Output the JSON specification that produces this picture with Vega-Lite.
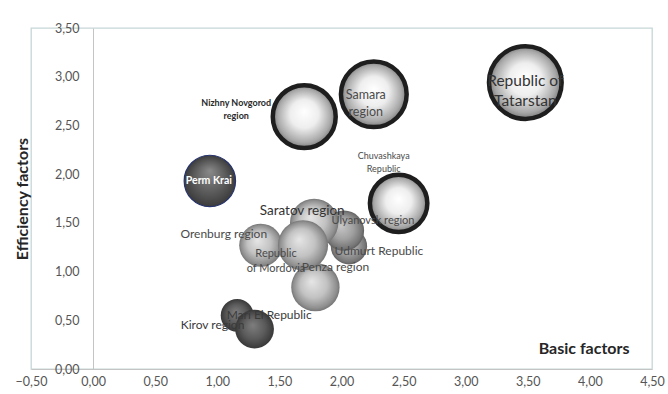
{
  "$schema": "https://vega.github.io/schema/vega-lite/v6.json",
  "width": 621,
  "height": 341,
  "autosize": {"type": "none"},
  "padding": {"left": 31, "top": 28, "right": 16, "bottom": 25},
  "background": "white",
  "config": {
    "view": {"stroke": "#c6d8d6", "strokeWidth": 1.3},
    "font": "Lato",
    "text": {"lineBreak": "\n", "font": "Lato"}
  },
  "data": {
    "values": [
      {"region": "Udmurt Republic", "label": "Udmurt Republic", "basic": 2.06, "efficiency": 1.26, "weight": 22},
      {"region": "Ulyanovsk region", "label": "Ulyanovsk region", "basic": 2.02, "efficiency": 1.42, "weight": 27},
      {"region": "Penza region", "label": "Penza region", "basic": 1.79, "efficiency": 0.84, "weight": 39},
      {"region": "Orenburg region", "label": "Orenburg region", "basic": 1.35, "efficiency": 1.27, "weight": 31},
      {"region": "Saratov region", "label": "Saratov region", "basic": 1.78, "efficiency": 1.5, "weight": 39},
      {"region": "Republic of Mordovia", "label": "Republic\nof Mordovia", "basic": 1.69, "efficiency": 1.27, "weight": 42},
      {"region": "Mari El Republic", "label": "Mari El Republic", "basic": 1.16, "efficiency": 0.55, "weight": 18},
      {"region": "Kirov region", "label": "Kirov region", "basic": 1.3, "efficiency": 0.41, "weight": 25},
      {"region": "Perm Krai", "label": "Perm Krai", "basic": 0.94, "efficiency": 1.93, "weight": 44},
      {"region": "Nizhny Novgorod region", "label": "Nizhny Novgorod\nregion", "basic": 1.7, "efficiency": 2.59, "weight": 66},
      {"region": "Samara region", "label": "Samara\nregion", "basic": 2.26, "efficiency": 2.82, "weight": 72},
      {"region": "Chuvashkaya Republic", "label": "Chuvashkaya\nRepublic", "basic": 2.46, "efficiency": 1.7, "weight": 55},
      {"region": "Republic of Tatarstan", "label": "Republic of\nTatarstan", "basic": 3.48, "efficiency": 2.94, "weight": 88}
    ]
  },
  "encoding": {
    "x": {
      "field": "basic", "type": "quantitative",
      "scale": {"domain": [-0.5, 4.5], "nice": false, "zero": false},
      "axis": {
        "title": "Basic factors",
        "values": [-0.5, 0, 0.5, 1, 1.5, 2, 2.5, 3, 3.5, 4, 4.5],
        "labelExpr": "replace(format(datum.value, '.2f'), '.', ',')",
        "labelFont": "Lato", "labelFontSize": 12.5, "labelColor": "#555555",
        "labelPadding": 6, "ticks": false, "grid": false,
        "domainColor": "#c4c4c4", "labelFlush": false,
        "titleFont": "Lato", "titleFontSize": 16, "titleFontWeight": "bold", "titleColor": "#262626",
        "titleAnchor": "end", "titleAlign": "right", "titleBaseline": "alphabetic",
        "titleX": 598, "titleY": -16
      }
    },
    "y": {
      "field": "efficiency", "type": "quantitative",
      "scale": {"domain": [0, 3.5], "nice": false},
      "axis": {
        "title": "Efficiency factors",
        "values": [0, 0.5, 1, 1.5, 2, 2.5, 3, 3.5],
        "labelExpr": "replace(format(datum.value, '.2f'), '.', ',')",
        "labelFont": "Lato", "labelFontSize": 12.5, "labelColor": "#555555",
        "labelPadding": 14, "ticks": false, "grid": false, "offset": -62,
        "domainColor": "#c4c4c4",
        "titleFont": "Lato", "titleFontSize": 16, "titleFontWeight": "bold", "titleColor": "#262626",
        "titlePadding": 24
      }
    },
    "size": {
      "field": "weight", "type": "quantitative",
      "scale": {"type": "linear", "domain": [0, 100], "range": [0, 6000], "zero": true},
      "legend": null
    }
  },
  "layer": [
    {
      "transform": [{"filter": {"field": "region", "oneOf": ["Udmurt Republic", "Ulyanovsk region"]}}],
      "mark": {
        "type": "circle", "opacity": 1, "strokeWidth": 0,
        "fill": {"gradient": "radial", "x1": 0.42, "y1": 0.38, "r1": 0, "x2": 0.5, "y2": 0.5, "r2": 0.5,
          "stops": [{"offset": 0, "color": "#c8c8c8"}, {"offset": 0.55, "color": "#a0a0a0"}, {"offset": 0.9, "color": "#767676"}, {"offset": 1, "color": "#606060"}]}
      }
    },
    {
      "transform": [{"filter": {"field": "region", "oneOf": ["Penza region", "Orenburg region", "Saratov region", "Republic of Mordovia"]}}],
      "mark": {
        "type": "circle", "opacity": 1, "strokeWidth": 0,
        "fill": {"gradient": "radial", "x1": 0.42, "y1": 0.38, "r1": 0, "x2": 0.5, "y2": 0.5, "r2": 0.5,
          "stops": [{"offset": 0, "color": "#e6e6e6"}, {"offset": 0.55, "color": "#c2c2c2"}, {"offset": 0.9, "color": "#8e8e8e"}, {"offset": 1, "color": "#757575"}]}
      }
    },
    {
      "transform": [{"filter": {"field": "region", "oneOf": ["Mari El Republic", "Kirov region"]}}],
      "mark": {
        "type": "circle", "opacity": 1, "strokeWidth": 0,
        "fill": {"gradient": "radial", "x1": 0.45, "y1": 0.4, "r1": 0, "x2": 0.5, "y2": 0.5, "r2": 0.5,
          "stops": [{"offset": 0, "color": "#7e7e7e"}, {"offset": 0.6, "color": "#5a5a5a"}, {"offset": 1, "color": "#383838"}]}
      }
    },
    {
      "transform": [{"filter": {"field": "region", "equal": "Perm Krai"}}],
      "mark": {
        "type": "circle", "opacity": 1, "stroke": "#26336e", "strokeWidth": 1.2,
        "fill": {"gradient": "radial", "x1": 0.5, "y1": 0.3, "r1": 0, "x2": 0.5, "y2": 0.5, "r2": 0.5,
          "stops": [{"offset": 0, "color": "#8a8a8a"}, {"offset": 0.6, "color": "#5c5c5c"}, {"offset": 1, "color": "#3c3c3c"}]}
      }
    },
    {
      "transform": [{"filter": {"field": "region", "oneOf": ["Nizhny Novgorod region", "Samara region", "Chuvashkaya Republic", "Republic of Tatarstan"]}}],
      "mark": {
        "type": "circle", "opacity": 1, "stroke": "#1e1e1e", "strokeWidth": 4.5,
        "fill": {"gradient": "radial", "x1": 0.5, "y1": 0.42, "r1": 0, "x2": 0.5, "y2": 0.5, "r2": 0.5,
          "stops": [{"offset": 0, "color": "#ffffff"}, {"offset": 0.45, "color": "#eeeeee"}, {"offset": 0.85, "color": "#a8a8a8"}, {"offset": 1, "color": "#7a7a7a"}]}
      }
    },
    {
      "transform": [{"filter": {"field": "region", "equal": "Republic of Tatarstan"}}],
      "mark": {"type": "text", "fontSize": 15.5, "color": "#333333", "lineHeight": 20, "dy": -2, "baseline": "middle"},
      "encoding": {"text": {"field": "label"}, "size": {"value": 15.5}}
    },
    {
      "transform": [{"filter": {"field": "region", "equal": "Samara region"}}],
      "mark": {"type": "text", "fontSize": 12.5, "color": "#4a4a4a", "lineHeight": 17, "dx": -8, "dy": 1, "baseline": "middle"},
      "encoding": {"text": {"field": "label"}, "size": {"value": 12.5}}
    },
    {
      "transform": [{"filter": {"field": "region", "equal": "Nizhny Novgorod region"}}],
      "mark": {"type": "text", "fontSize": 9, "fontWeight": "bold", "color": "#2a2a2a", "lineHeight": 13, "dx": -68, "dy": -14, "baseline": "middle"},
      "encoding": {"text": {"field": "label"}, "size": {"value": 9}}
    },
    {
      "transform": [{"filter": {"field": "region", "equal": "Chuvashkaya Republic"}}],
      "mark": {"type": "text", "fontSize": 9, "color": "#4a4a4a", "lineHeight": 13, "dx": -15, "dy": -47, "baseline": "middle"},
      "encoding": {"text": {"field": "label"}, "size": {"value": 9}}
    },
    {
      "transform": [{"filter": {"field": "region", "equal": "Perm Krai"}}],
      "mark": {"type": "text", "fontSize": 10.5, "fontWeight": "bold", "color": "#ffffff", "dx": -1, "baseline": "middle"},
      "encoding": {"text": {"field": "label"}, "size": {"value": 10.5}}
    },
    {
      "transform": [{"filter": {"field": "region", "equal": "Saratov region"}}],
      "mark": {"type": "text", "fontSize": 13.5, "color": "#333333", "dx": -12, "dy": -12, "baseline": "middle"},
      "encoding": {"text": {"field": "label"}, "size": {"value": 13.5}}
    },
    {
      "transform": [{"filter": {"field": "region", "equal": "Orenburg region"}}],
      "mark": {"type": "text", "fontSize": 12, "color": "#4a4a4a", "dx": -37, "dy": -11, "baseline": "middle"},
      "encoding": {"text": {"field": "label"}, "size": {"value": 12}}
    },
    {
      "transform": [{"filter": {"field": "region", "equal": "Republic of Mordovia"}}],
      "mark": {"type": "text", "fontSize": 11, "color": "#4a4a4a", "lineHeight": 15, "dx": -27, "dy": 9, "baseline": "middle"},
      "encoding": {"text": {"field": "label"}, "size": {"value": 11}}
    },
    {
      "transform": [{"filter": {"field": "region", "equal": "Ulyanovsk region"}}],
      "mark": {"type": "text", "fontSize": 11, "color": "#4a4a4a", "dx": 29, "dy": -10, "baseline": "middle"},
      "encoding": {"text": {"field": "label"}, "size": {"value": 11}}
    },
    {
      "transform": [{"filter": {"field": "region", "equal": "Udmurt Republic"}}],
      "mark": {"type": "text", "fontSize": 12, "color": "#4a4a4a", "dx": 30, "dy": 5, "baseline": "middle"},
      "encoding": {"text": {"field": "label"}, "size": {"value": 12}}
    },
    {
      "transform": [{"filter": {"field": "region", "equal": "Penza region"}}],
      "mark": {"type": "text", "fontSize": 12, "color": "#4a4a4a", "dx": 20, "dy": -20, "baseline": "middle"},
      "encoding": {"text": {"field": "label"}, "size": {"value": 12}}
    },
    {
      "transform": [{"filter": {"field": "region", "equal": "Mari El Republic"}}],
      "mark": {"type": "text", "fontSize": 12, "color": "#3a3a3a", "dx": 32, "dy": 0, "baseline": "middle"},
      "encoding": {"text": {"field": "label"}, "size": {"value": 12}}
    },
    {
      "transform": [{"filter": {"field": "region", "equal": "Kirov region"}}],
      "mark": {"type": "text", "fontSize": 12, "color": "#3a3a3a", "dx": -42, "dy": -4, "baseline": "middle"},
      "encoding": {"text": {"field": "label"}, "size": {"value": 12}}
    }
  ]
}
